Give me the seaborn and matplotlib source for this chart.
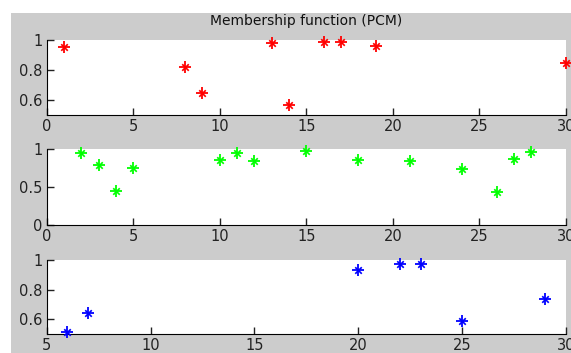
import seaborn as sns
import matplotlib.pyplot as plt
from matplotlib.patches import Rectangle

# membership values per cluster (sample index -> degree)
x_red = [1, 8, 9, 13, 14, 16, 17, 19, 30]
y_red = [0.955, 0.82, 0.65, 0.978, 0.565, 0.99, 0.99, 0.962, 0.85]

x_green = [2, 3, 4, 5, 10, 11, 12, 15, 18, 21, 24, 26, 27, 28]
y_green = [0.955, 0.79, 0.45, 0.757, 0.86, 0.947, 0.84, 0.977, 0.86, 0.84, 0.74, 0.43, 0.87, 0.96]

x_blue = [6, 7, 20, 22, 23, 25, 29]
y_blue = [0.515, 0.645, 0.933, 0.97, 0.97, 0.587, 0.738]

sns.set_style("ticks")
plt.rcParams['font.family'] = ['DejaVu Sans']
plt.rcParams['xtick.direction'] = 'in'
plt.rcParams['ytick.direction'] = 'in'

fig = plt.figure(figsize=(5.71, 3.53), dpi=100, facecolor='white')
# matlab-ish grey figure area
fig.patches.append(Rectangle((11 / 571, 0), 1, 1 - 13 / 353, transform=fig.transFigure,
                             facecolor='#cccccc', edgecolor='none', zorder=-10))

W = 571.0
H = 353.0
left = 46.7 / W
width = 519.3 / W
ax1 = fig.add_axes([left, 1 - 115 / H, width, 75 / H])
ax2 = fig.add_axes([left, 1 - 225 / H, width, 75.7 / H])
ax3 = fig.add_axes([left, 1 - 334 / H, width, 74 / H])

panels = [
    (ax1, x_red, y_red, 'red', (0, 30), (0.5, 1), [0, 5, 10, 15, 20, 25, 30], [0.6, 0.8, 1]),
    (ax2, x_green, y_green, 'lime', (0, 30), (0, 1), [0, 5, 10, 15, 20, 25, 30], [0, 0.5, 1]),
    (ax3, x_blue, y_blue, 'blue', (5, 30), (0.5, 1), [5, 10, 15, 20, 25, 30], [0.6, 0.8, 1]),
]

for ax, xs, ys, col, xl, yl, xt, yt in panels:
    ax.set_facecolor('white')
    sns.scatterplot(x=xs, y=ys, marker='+', color=col, s=65, linewidth=1.3, ax=ax, clip_on=False, zorder=3)
    sns.scatterplot(x=xs, y=ys, marker='x', color=col, s=22, linewidth=1.2, ax=ax, clip_on=False, zorder=3)
    ax.set_xlim(xl)
    ax.set_ylim(yl)
    ax.set_xticks(xt)
    ax.set_yticks(yt)
    ax.set_yticklabels([('%g' % v) for v in yt])
    sns.despine(ax=ax)
    ax.spines['left'].set_color('black')
    ax.spines['bottom'].set_color('black')
    ax.tick_params(axis='both', labelsize=10.5, colors='#222222', length=5, width=1, pad=3)

ax1.set_title('Membership function (PCM)', fontsize=10, pad=11, color='#111111')

fig.savefig('out.png', dpi=100, facecolor=fig.get_facecolor())
